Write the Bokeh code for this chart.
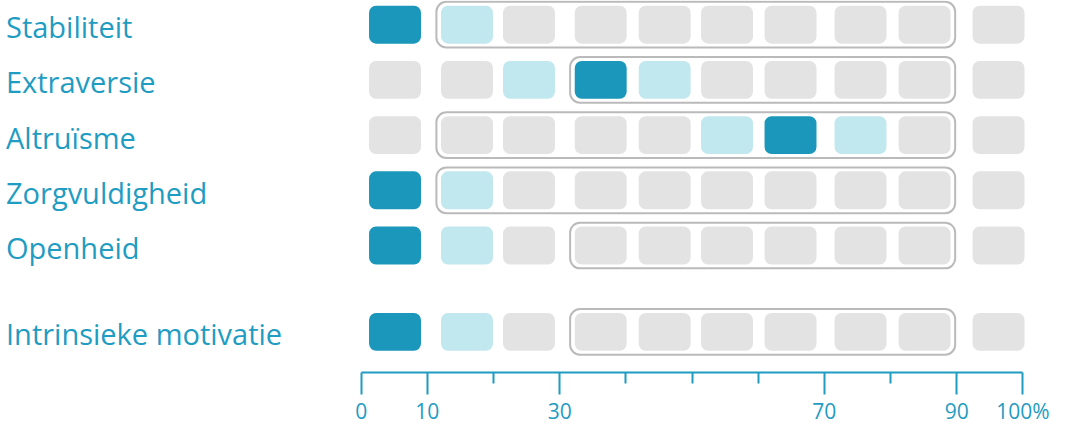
from bokeh.plotting import figure
from bokeh.models import Range1d, LinearAxis, FixedTicker, ColumnDataSource
from bokeh.core.properties import value
from bokeh.embed import file_html
from bokeh.resources import INLINE

# ---- data ----
traits = ["Stabiliteit", "Extraversie", "Altruïsme", "Zorgvuldigheid", "Openheid", "Intrinsieke motivatie"]
score_cell = [1, 4, 7, 1, 1, 1]          # dark (scored) cell, 1-based
norm_first = [2, 4, 2, 2, 4, 4]          # first cell inside the norm outline
norm_last = [9, 9, 9, 9, 9, 9]           # last cell inside the norm outline
major_ticks = [0, 10, 30, 70, 90, 100]
minor_ticks = [20, 40, 50, 60, 80]
tick_labels = {100: "100%"}

# ---- layout (percent scale positions of the 10 cells) ----
cell_centers = [5.11, 15.99, 25.36, 36.2, 45.87, 55.29, 64.89, 75.47, 85.15, 96.33]
cell_w = 7.85
row_pos = [0, 1, 2, 3, 4, 5.564]
box_h = 0.687
pad_x = 0.7
pad_y = 0.07

DARK = "#1a97ba"
LIGHT = "#c0e8ee"
GREY = "#e3e3e3"
TEXT = "#1f9cc2"
OUTLINE = "#bababa"

p = figure(width=1055, height=427, x_range=Range1d(-54.52, 104.94), y_range=Range1d(6.30, -0.438),
           output_backend="svg", toolbar_location=None, x_axis_type=None, y_axis_type=None,
           min_border=0)
p.outline_line_color = None
p.background_fill_color = "white"

l, r, t, b, c = [], [], [], [], []
ol, orr, ot, ob = [], [], [], []
for i, tr in enumerate(traits):
    y = row_pos[i]
    for k, cx in enumerate(cell_centers, start=1):
        l.append(cx - cell_w / 2)
        r.append(cx + cell_w / 2)
        t.append(y - box_h / 2)
        b.append(y + box_h / 2)
        if k == score_cell[i]:
            c.append(DARK)
        elif abs(k - score_cell[i]) == 1:
            c.append(LIGHT)
        else:
            c.append(GREY)
    ol.append(cell_centers[norm_first[i] - 1] - cell_w / 2 - pad_x)
    orr.append(cell_centers[norm_last[i] - 1] + cell_w / 2 + pad_x)
    ot.append(y - box_h / 2 - pad_y)
    ob.append(y + box_h / 2 + pad_y)

cells = ColumnDataSource(dict(left=l, right=r, top=t, bottom=b, color=c))
p.quad(left="left", right="right", top="top", bottom="bottom", fill_color="color",
       line_color=None, border_radius=7, source=cells)

outl = ColumnDataSource(dict(left=ol, right=orr, top=ot, bottom=ob))
p.quad(left="left", right="right", top="top", bottom="bottom", fill_color=None,
       line_color=OUTLINE, line_width=2, border_radius=10, source=outl)

labels = ColumnDataSource(dict(x=[-53.69] * len(traits), y=row_pos, text=traits))
p.text(x="x", y="y", text="text", source=labels, text_font=value("Open Sans"),
       text_font_size="29px", text_color=TEXT, text_baseline="middle",
       text_align="left", y_offset=2)

ax = LinearAxis(ticker=FixedTicker(ticks=major_ticks, minor_ticks=minor_ticks), bounds=(0, 100))
ax.major_label_overrides = tick_labels
ax.axis_line_color = TEXT
ax.axis_line_width = 2
ax.major_tick_line_color = TEXT
ax.major_tick_line_width = 2
ax.minor_tick_line_color = TEXT
ax.minor_tick_line_width = 2
ax.major_tick_in = 0
ax.major_tick_out = 22
ax.minor_tick_in = 0
ax.minor_tick_out = 11
ax.major_label_standoff = 2
ax.major_label_text_font = "Open Sans"
ax.major_label_text_font_size = "21px"
ax.major_label_text_color = TEXT
p.add_layout(ax, "below")

open("out.html", "w").write(file_html(p, INLINE))
